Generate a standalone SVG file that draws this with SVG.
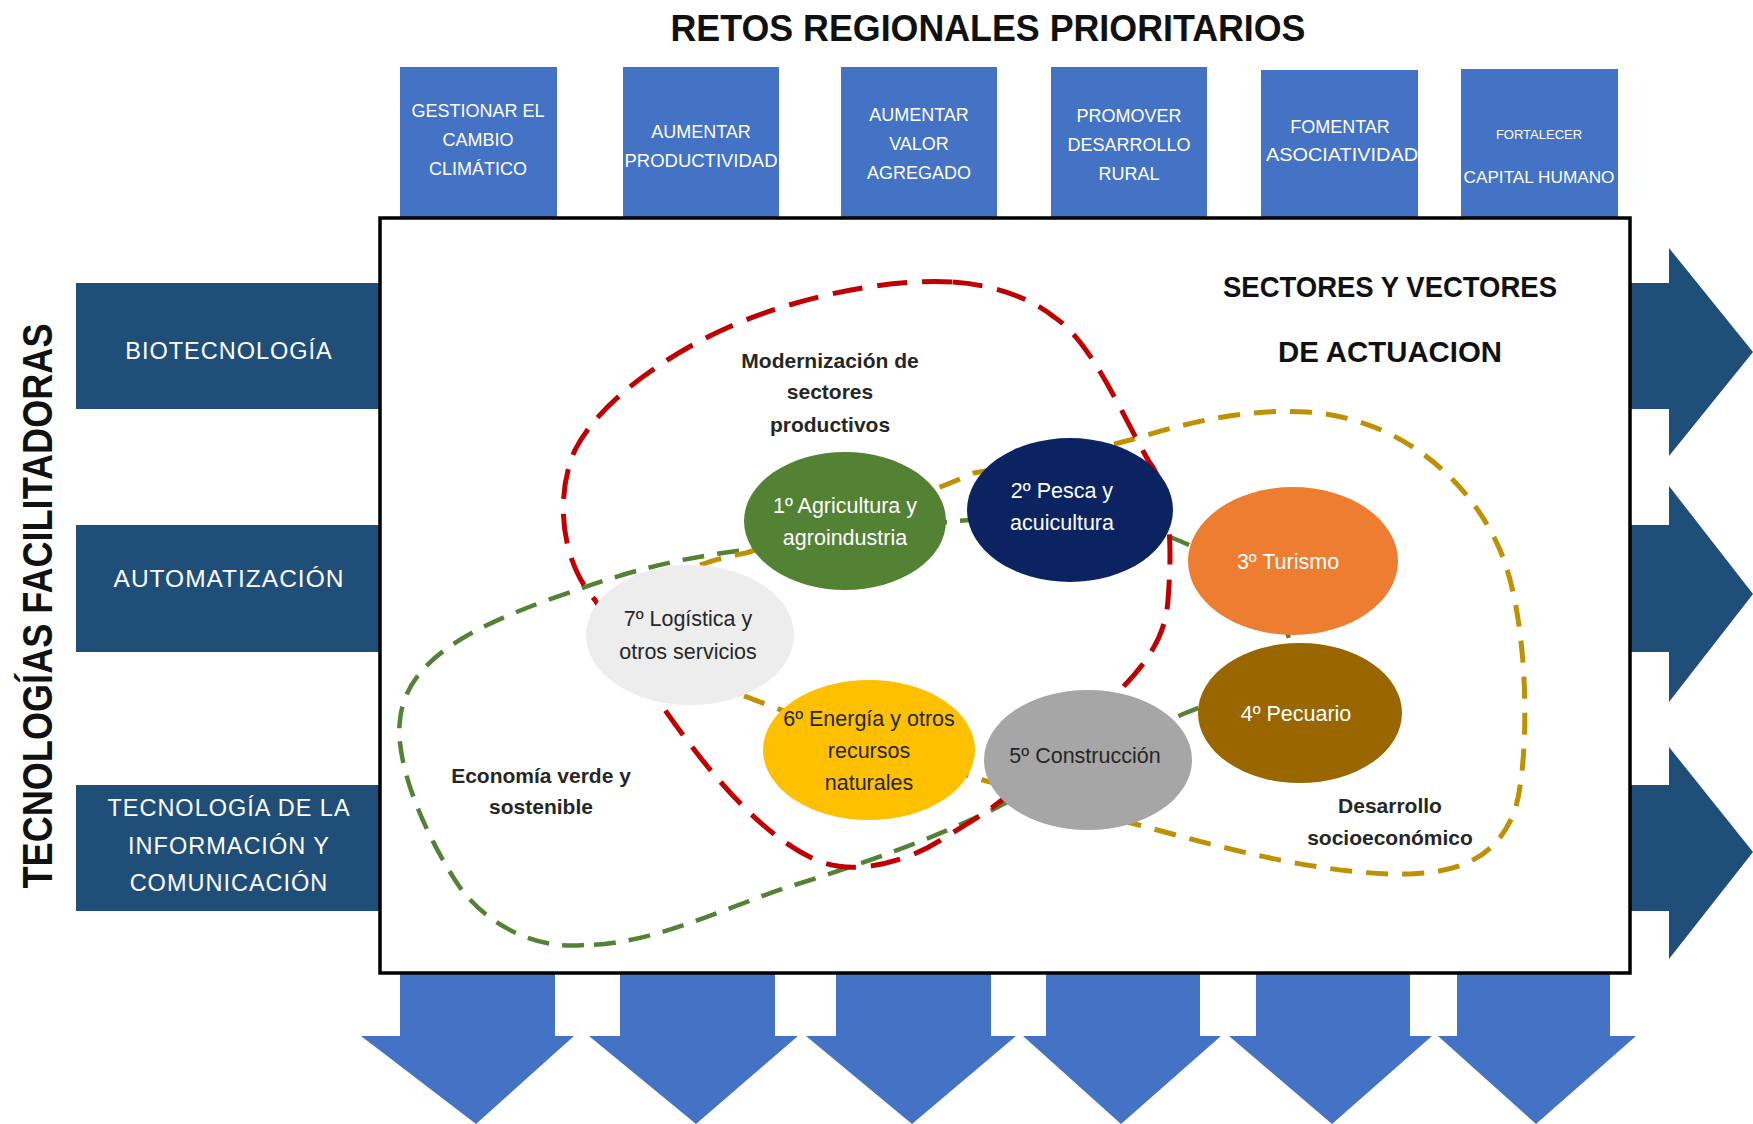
<svg xmlns="http://www.w3.org/2000/svg" width="1753" height="1124" viewBox="0 0 1753 1124">
<style>
.reto{fill:#4472C4}
.tec{fill:#1F4E79}
.down{fill:#4472C4}
.t-reto{font-family:"Liberation Sans",Arial,sans-serif;font-size:18px;fill:#fff;text-anchor:middle}
.t-tec{font-family:"Liberation Sans",Arial,sans-serif;font-size:23.5px;fill:#fff;text-anchor:middle;letter-spacing:1px}
.t-node{font-family:"Liberation Sans",Arial,sans-serif;font-size:21.5px;text-anchor:middle}
.t-lab{font-family:"Liberation Sans",Arial,sans-serif;font-size:21px;font-weight:bold;fill:#262626;text-anchor:middle}
.t-head{font-family:"Liberation Sans",Arial,sans-serif;font-weight:bold;fill:#111;text-anchor:middle}
.loop{fill:none;stroke-linecap:butt}
.red{stroke:#C00000;stroke-width:5;stroke-dasharray:30 15}
.gold{stroke:#BF9000;stroke-width:5;stroke-dasharray:22 14}
.green{stroke:#548235;stroke-width:4.5;stroke-dasharray:22 13}
.light{fill:#fff}
.dark{fill:#262626}
</style>

<text class="t-head" x="988" y="41" style="font-size:36px" textLength="635" lengthAdjust="spacingAndGlyphs">RETOS REGIONALES PRIORITARIOS</text>

<!-- Top challenge boxes -->
<g id="reto1"><rect class="reto" x="400" y="67" width="157" height="150"/>
<text class="t-reto" x="478" y="117">GESTIONAR EL</text><text class="t-reto" x="478" y="146">CAMBIO</text><text class="t-reto" x="478" y="175">CLIMÁTICO</text></g>
<g id="reto2"><rect class="reto" x="623" y="67" width="156" height="150"/>
<text class="t-reto" x="701" y="138">AUMENTAR</text><text class="t-reto" x="701" y="167" textLength="153" lengthAdjust="spacingAndGlyphs">PRODUCTIVIDAD</text></g>
<g id="reto3"><rect class="reto" x="841" y="67" width="156" height="150"/>
<text class="t-reto" x="919" y="121">AUMENTAR</text><text class="t-reto" x="919" y="150">VALOR</text><text class="t-reto" x="919" y="179">AGREGADO</text></g>
<g id="reto4"><rect class="reto" x="1051" y="67" width="156" height="150"/>
<text class="t-reto" x="1129" y="122">PROMOVER</text><text class="t-reto" x="1129" y="151">DESARROLLO</text><text class="t-reto" x="1129" y="180">RURAL</text></g>
<g id="reto5"><rect class="reto" x="1261" y="70" width="157" height="147"/>
<text class="t-reto" x="1340" y="133">FOMENTAR</text><text class="t-reto" x="1342" y="161" textLength="152" lengthAdjust="spacingAndGlyphs">ASOCIATIVIDAD</text></g>
<g id="reto6"><rect class="reto" x="1461" y="69" width="157" height="148"/>
<text class="t-reto" x="1539" y="139" style="font-size:13px">FORTALECER</text><text class="t-reto" x="1539" y="183" style="font-size:16px" textLength="151" lengthAdjust="spacingAndGlyphs">CAPITAL HUMANO</text></g>

<!-- Left technology blocks -->
<text x="52" y="606" transform="rotate(-90 52 606)" font-family="Liberation Sans, Arial, sans-serif" font-weight="bold" font-size="42" fill="#111" text-anchor="middle" textLength="565" lengthAdjust="spacingAndGlyphs">TECNOLOGÍAS FACILITADORAS</text>
<g id="tec1"><rect class="tec" x="76" y="283" width="305" height="126"/><text class="t-tec" x="229" y="359">BIOTECNOLOGÍA</text></g>
<g id="tec2"><rect class="tec" x="76" y="525" width="305" height="127"/><text class="t-tec" x="229" y="587" style="font-size:24.5px">AUTOMATIZACIÓN</text></g>
<g id="tec3"><rect class="tec" x="76" y="785" width="305" height="126"/>
<text class="t-tec" x="229" y="816">TECNOLOGÍA DE LA</text><text class="t-tec" x="229" y="854">INFORMACIÓN Y</text><text class="t-tec" x="229" y="891">COMUNICACIÓN</text></g>

<!-- Right arrows -->
<g id="out1"><polygon class="tec" points="1630,283 1669,283 1669,248 1753,352 1669,456 1669,409 1630,409"/></g>
<g id="out2"><polygon class="tec" points="1630,525 1669,525 1669,486 1753,594 1669,702 1669,652 1630,652"/></g>
<g id="out3"><polygon class="tec" points="1630,785 1669,785 1669,747 1753,852 1669,959 1669,911 1630,911"/></g>

<!-- Bottom arrows -->
<g id="down1"><polygon class="down" points="400,973 555,973 555,1036 574,1036 476,1124 361,1036 400,1036"/></g>
<g id="down2"><polygon class="down" points="620,973 775,973 775,1036 798,1036 696,1124 589,1036 620,1036"/></g>
<g id="down3"><polygon class="down" points="836,973 991,973 991,1036 1016,1036 912,1124 806,1036 836,1036"/></g>
<g id="down4"><polygon class="down" points="1046,973 1200,973 1200,1036 1221,1036 1121,1124 1023,1036 1046,1036"/></g>
<g id="down5"><polygon class="down" points="1256,973 1410,973 1410,1036 1432,1036 1332,1124 1229,1036 1256,1036"/></g>
<g id="down6"><polygon class="down" points="1457,973 1610,973 1610,1036 1636,1036 1536,1124 1438,1036 1457,1036"/></g>

<!-- Main frame -->
<rect id="frame" x="380" y="218" width="1250" height="755" fill="#fff" stroke="#000" stroke-width="3.5"/>

<text class="t-head" x="1390" y="297" style="font-size:30px" textLength="334" lengthAdjust="spacingAndGlyphs">SECTORES Y VECTORES</text>
<text class="t-head" x="1390" y="362" style="font-size:30px" textLength="224" lengthAdjust="spacingAndGlyphs">DE ACTUACION</text>

<!-- Connectors / loops -->
<g id="loops">
<path id="loop-green" class="loop green" d="M 584,945 C 530,950 480,920 455,880 C 420,825 395,760 400,720 C 405,670 450,635 548,600 C 610,578 660,560 746,550 C 830,540 900,525 970,520 C 1060,515 1120,530 1170,537 C 1230,560 1280,600 1290,642 C 1260,680 1220,700 1183,714 C 1120,745 1050,780 992,810 C 930,840 860,865 788,887 C 720,910 650,945 584,945 Z"/>
<path id="loop-gold" class="loop gold" d="M 700,565 C 720,558 735,555 746,553 C 820,530 900,505 974,473 C 1050,460 1100,448 1130,440 C 1180,425 1240,408 1307,412 C 1400,418 1470,480 1500,550 C 1530,620 1530,760 1515,810 C 1500,850 1470,872 1410,874 C 1330,876 1230,850 1150,828 C 1080,810 1020,790 972,777 C 900,755 820,725 747,697 C 700,680 680,600 700,565 Z"/>
<path id="loop-red" class="loop red" d="M 952,282 C 880,278 790,300 729,327 C 670,353 600,400 575,450 C 555,495 560,560 595,600 C 620,640 640,680 660,703 C 700,760 760,840 824,863 C 860,875 910,860 941,840 C 970,822 990,810 1002,800 C 1050,760 1100,720 1120,690 C 1150,660 1166,633 1168,600 C 1172,550 1172,490 1148,460 C 1120,410 1090,340 1054,317 C 1030,297 990,284 952,282 Z"/>
</g>

<!-- Sector nodes -->
<g id="n1"><ellipse cx="845" cy="521" rx="101" ry="69" fill="#548235"/>
<text class="t-node light" x="845" y="513">1º Agricultura y</text><text class="t-node light" x="845" y="545">agroindustria</text></g>
<g id="n2"><ellipse cx="1070" cy="510" rx="103" ry="72" fill="#0B2461"/>
<text class="t-node light" x="1062" y="498">2º Pesca y</text><text class="t-node light" x="1062" y="530">acuicultura</text></g>
<g id="n3"><ellipse cx="1293" cy="561" rx="105" ry="74" fill="#ED7D31"/>
<text class="t-node light" x="1288" y="569">3º Turismo</text></g>
<g id="n4"><ellipse cx="1300" cy="713" rx="102" ry="70" fill="#996600"/>
<text class="t-node light" x="1296" y="721">4º Pecuario</text></g>
<g id="n5"><ellipse cx="1088" cy="760" rx="104" ry="70" fill="#A6A6A6"/>
<text class="t-node dark" x="1085" y="763">5º Construcción</text></g>
<g id="n6"><ellipse cx="869" cy="750" rx="106" ry="70" fill="#FFC000"/>
<text class="t-node dark" x="869" y="726">6º Energía y otros</text><text class="t-node dark" x="869" y="758">recursos</text><text class="t-node dark" x="869" y="790">naturales</text></g>
<g id="n7"><ellipse cx="690" cy="635" rx="104" ry="70" fill="#EDEDED"/>
<text class="t-node dark" x="688" y="626">7º Logística y</text><text class="t-node dark" x="688" y="659">otros servicios</text></g>

<!-- Group labels -->
<text class="t-lab" x="830" y="368">Modernización de</text>
<text class="t-lab" x="830" y="399">sectores</text>
<text class="t-lab" x="830" y="432">productivos</text>
<text class="t-lab" x="541" y="783">Economía verde y</text>
<text class="t-lab" x="541" y="814">sostenible</text>
<text class="t-lab" x="1390" y="813">Desarrollo</text>
<text class="t-lab" x="1390" y="845">socioeconómico</text>
</svg>
